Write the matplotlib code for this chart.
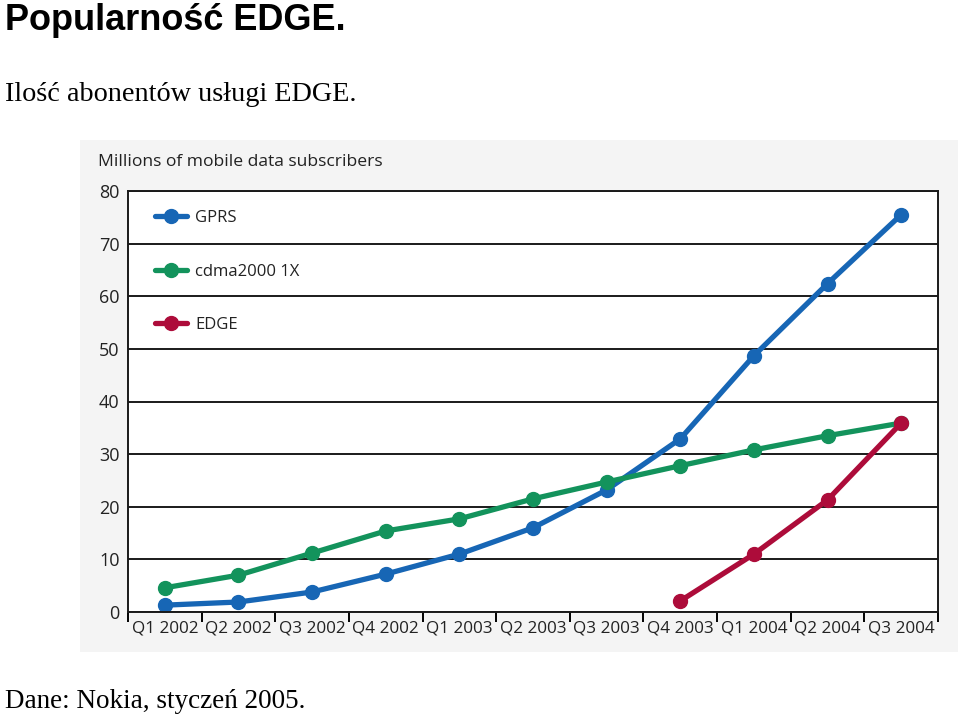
import matplotlib.pyplot as plt
from matplotlib.patches import Rectangle
import numpy as np

quarters = ["Q1 2002", "Q2 2002", "Q3 2002", "Q4 2002", "Q1 2003", "Q2 2003",
            "Q3 2003", "Q4 2003", "Q1 2004", "Q2 2004", "Q3 2004"]
gprs = [1.3, 1.9, 3.8, 7.2, 11.0, 16.0, 23.2, 32.9, 48.7, 62.4, 75.5]
cdma = [4.6, 7.0, 11.2, 15.4, 17.7, 21.5, 24.7, 27.8, 30.8, 33.5, 35.9]
edge_q = ["Q4 2003", "Q1 2004", "Q2 2004", "Q3 2004"]
edge = [2.1, 11.0, 21.3, 35.9]
y_ticks = [0, 10, 20, 30, 40, 50, 60, 70, 80]

fig = plt.figure(figsize=(9.6, 7.16), dpi=100)
fig.patch.set_facecolor("white")

# grey backdrop of the pasted chart image
fig.patches.append(Rectangle((80 / 960, 1 - 652 / 716), 878 / 960, 512 / 716,
                             transform=fig.transFigure, facecolor="#f4f4f4",
                             edgecolor="none", zorder=-1))

fig.text(5 / 960, 1 - 30 / 716, "Popularność EDGE.", fontsize=26, fontweight="bold",
         family="Liberation Sans", va="baseline", ha="left")
fig.text(5 / 960, 1 - 101 / 716, "Ilość abonentów usługi EDGE.", fontsize=20.3,
         family="Liberation Serif", va="baseline", ha="left")
fig.text(5 / 960, 1 - 708 / 716, "Dane: Nokia, styczeń 2005.", fontsize=19.5,
         family="Liberation Serif", va="baseline", ha="left")
fig.text(98 / 960, 1 - 162 / 716, "Millions of mobile data subscribers", fontsize=12.6,
         family="Open Sans", va="center", ha="left", color="#222222")

ax = fig.add_axes([128 / 960, 1 - 612 / 716, 810 / 960, 421 / 716])
ax.set_facecolor("white")

x = np.arange(len(quarters))
xe = [quarters.index(q) for q in edge_q]
style = dict(linewidth=3.8, marker="o", markersize=10, solid_capstyle="round")
ax.plot(x, gprs, color="#1766b5", label="GPRS", **style)
ax.plot(x, cdma, color="#13935c", label="cdma2000 1X", **style)
ax.plot(xe, edge, color="#ad0c3a", label="EDGE", **style)

ax.set_xlim(-0.5, len(quarters) - 0.5)
ax.set_ylim(0, 80)
ax.set_yticks(y_ticks)
ax.tick_params(axis="y", length=0, pad=6, labelsize=13, labelcolor="#222222")
for lab in ax.get_yticklabels():
    lab.set_family("Open Sans")
ax.yaxis.grid(True, color="#1a1a1a", linewidth=1.4)
ax.set_axisbelow(True)

ax.set_xticks(np.arange(len(quarters) + 1) - 0.5)
ax.set_xticklabels([])
ax.tick_params(axis="x", which="major", length=7, width=1.4, direction="out")
ax.set_xticks(x, minor=True)
ax.set_xticklabels(quarters, minor=True, fontsize=12.3, family="Open Sans", color="#222222")
ax.tick_params(axis="x", which="minor", length=0, pad=6)

for s in ax.spines.values():
    s.set_color("#1a1a1a")
    s.set_linewidth(1.4)

leg = ax.legend(loc="upper left", frameon=False, bbox_to_anchor=(0.015, 0.99),
                prop={"family": "Open Sans", "size": 12}, labelspacing=2.25,
                handlelength=1.9, handletextpad=0.5)
for t in leg.get_texts():
    t.set_color("#222222")

fig.savefig("out.png", dpi=100)
